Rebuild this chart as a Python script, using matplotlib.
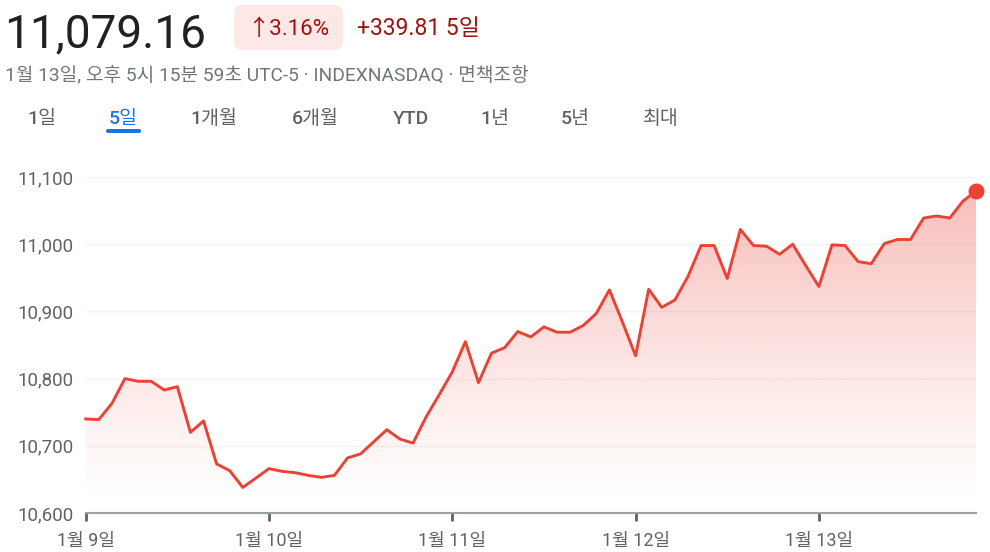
import numpy as np
import matplotlib
matplotlib.use('Agg')
import matplotlib.pyplot as plt
from matplotlib.patches import FancyBboxPatch, Polygon
from matplotlib.colors import to_rgb

plt.rcParams['font.family'] = ['Roboto', 'Noto Sans CJK KR', 'DejaVu Sans']

# NASDAQ, 5 days, 30 min steps
price = [10740, 10739, 10763, 10800, 10796, 10796, 10783, 10788, 10720, 10737,
         10673, 10663, 10638, 10652,
         10666, 10662, 10660, 10656, 10653, 10656, 10682, 10688, 10706, 10724,
         10710, 10704, 10743, 10776,
         10810, 10855, 10794, 10838, 10846, 10870, 10862, 10877, 10869, 10869,
         10879, 10897, 10932, 10884,
         10834, 10933, 10906, 10917, 10952, 10998, 10998, 10949, 11022, 10998,
         10997, 10985, 11000, 10968,
         10937, 10999, 10998, 10974, 10971, 11001, 11007, 11007, 11039, 11042,
         11039, 11064, 11079.16]
day_start = [0, 14, 28, 42, 56]
day_labels = ['1월 9일', '1월 10일', '1월 11일', '1월 12일', '1월 13일']
y_ticks = [10600, 10700, 10800, 10900, 11000, 11100]
tabs = ['1일', '5일', '1개월', '6개월', 'YTD', '1년', '5년', '최대']

RED = '#ea4335'
GRAY = '#5f6368'
W, H = 990, 552

fig = plt.figure(figsize=(W / 100, H / 100), dpi=100)

# pixel overlay for the header
top = fig.add_axes([0, 0, 1, 1])
top.set_xlim(0, W)
top.set_ylim(H, 0)
top.axis('off')

top.text(4, 47, '11,079.16', fontsize=33, color='#202124')
top.add_patch(FancyBboxPatch((234, 5), 109, 45, boxstyle='round,pad=0,rounding_size=9',
                             fc='#fce8e6', ec='none'))
top.text(288.5, 35, '↑3.16%', ha='center', fontsize=16, color='#a50e0e')
top.text(357, 35, '+339.81 5일', fontsize=16.5, color='#a50e0e')
top.text(5, 80, '1월 13일, 오후 5시 15분 59초 UTC-5 · INDEXNASDAQ · 면책조항',
         fontsize=13.8, color='#70757a')

tab_x = [42, 123, 214, 315, 411, 495, 575, 661]
for tx, t in zip(tab_x, tabs):
    c = '#1a73e8' if t == '5일' else GRAY
    top.text(tx, 124, t, ha='center', fontsize=14, weight='medium', color=c)
top.add_patch(FancyBboxPatch((106, 129), 35, 4, boxstyle='round,pad=0,rounding_size=2',
                             fc='#1a73e8', ec='none'))

# chart
ylo = 10600
yhi = 10600 + 363 / 0.672
ax = fig.add_axes([85.7 / W, (H - 513) / H, (976 - 85.7) / W, (513 - 150) / H])
ax.patch.set_alpha(0)
x = np.arange(len(price))
ax.set_xlim(0, x[-1])
ax.set_ylim(ylo, yhi)

verts = [(0, ylo)] + list(zip(x, price)) + [(x[-1], ylo)]
poly = Polygon(verts, closed=True, fc='none', ec='none')
ax.add_patch(poly)
yy = np.linspace(ylo, yhi, 300)
grad = np.zeros((300, 1, 4))
grad[..., :3] = to_rgb(RED)
grad[:, 0, 3] = np.clip((yy - 10620) / (11080 - 10620), 0, 1) ** 1.1 * 0.34
im = ax.imshow(grad, extent=[0, x[-1], ylo, yhi], origin='lower', aspect='auto', zorder=1)
im.set_clip_path(poly)

ax.plot(x, price, color=RED, lw=2.1, zorder=3, clip_on=False)
ax.plot(x[-1], price[-1], 'o', ms=10.5, color=RED, zorder=4, clip_on=False)

ax.set_yticks(y_ticks, [f'{v:,}' for v in y_ticks])
ax.grid(axis='y', color='#f1f3f4', lw=1, zorder=0)
ax.set_axisbelow(True)
ax.set_xticks(day_start, day_labels)
ax.tick_params(axis='y', length=0, pad=9, labelsize=13.5, labelcolor=GRAY)
ax.tick_params(axis='x', length=6, width=2, color=GRAY, pad=8, labelsize=13, labelcolor=GRAY)
for s in ['top', 'right', 'left']:
    ax.spines[s].set_visible(False)
ax.spines['bottom'].set_color('#9aa0a6')
ax.spines['bottom'].set_linewidth(1.5)

fig.savefig('out.png', dpi=100)
